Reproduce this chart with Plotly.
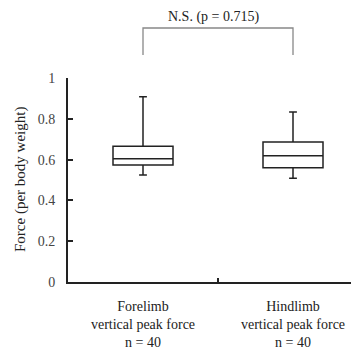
import plotly.graph_objects as go

categories = ["Forelimb<br>vertical peak force<br>n = 40", "Hindlimb<br>vertical peak force<br>n = 40"]
x_pos = [0, 1]
q1 = [0.573, 0.560]
median = [0.604, 0.619]
q3 = [0.665, 0.686]
lower = [0.524, 0.508]
upper = [0.908, 0.833]
y_ticks = [0, 0.2, 0.4, 0.6, 0.8, 1]
y_ticktext = ["0", "0.2", "0.4", "0.6", "0.8", "1"]
y_title = "Force (per body weight)"
sig_text = "N.S. (p = 0.715)"

FONT = "Liberation Serif"

fig = go.Figure()
for i in range(2):
    fig.add_trace(go.Box(
        x=[x_pos[i]], q1=[q1[i]], median=[median[i]], q3=[q3[i]],
        lowerfence=[lower[i]], upperfence=[upper[i]],
        width=0.4, whiskerwidth=0.13,
        fillcolor="white", line=dict(color="#222222", width=1.5),
        boxpoints=False, showlegend=False, hoverinfo="skip",
    ))

# significance bracket
fig.add_shape(type="path", xref="x", yref="paper",
              path=f"M {x_pos[0]},1.113 L {x_pos[0]},1.245 L {x_pos[1]},1.245 L {x_pos[1]},1.113",
              line=dict(color="#888888", width=1.3))
fig.add_annotation(x=0.47, xref="x", y=1.30, yref="paper", text=sig_text,
                   showarrow=False, yanchor="middle",
                   font=dict(family=FONT, size=14, color="#222222"))
fig.add_annotation(x=0, xref="paper", xshift=-48, xanchor="center", y=0.5, yref="paper",
                   text=y_title, showarrow=False, textangle=-90,
                   font=dict(family=FONT, size=15, color="#222222"))

# the page body has an 8px margin, so the figure is sized to fit the 359x350 window
fig.update_layout(
    width=351, height=342,
    margin=dict(l=60, r=0, t=70, b=68, autoexpand=False),
    plot_bgcolor="white", paper_bgcolor="white",
    font=dict(family=FONT, size=14, color="#222222"),
    xaxis=dict(range=[-0.5, 1.44], tickmode="array", tickvals=x_pos, ticktext=categories,
               ticks="", showline=True, linecolor="#222222", linewidth=1.8,
               showgrid=False, zeroline=False, ticklabelstandoff=10, automargin=False,
               minor=dict(tickmode="array", tickvals=[0.5], ticks="inside", ticklen=4,
                          tickwidth=2, tickcolor="#222222", showgrid=False),
               tickfont=dict(family=FONT, size=14, color="#222222")),
    yaxis=dict(range=[0, 1], tickmode="array", tickvals=y_ticks, ticktext=y_ticktext,
               ticks="inside", ticklen=5, tickwidth=1.5, tickcolor="#222222",
               showline=True, linecolor="#222222", linewidth=1.8, automargin=False,
               showgrid=False, zeroline=False, ticklabelstandoff=8,
               tickfont=dict(family=FONT, size=14, color="#444444")),
)

fig.write_html("out.html")
